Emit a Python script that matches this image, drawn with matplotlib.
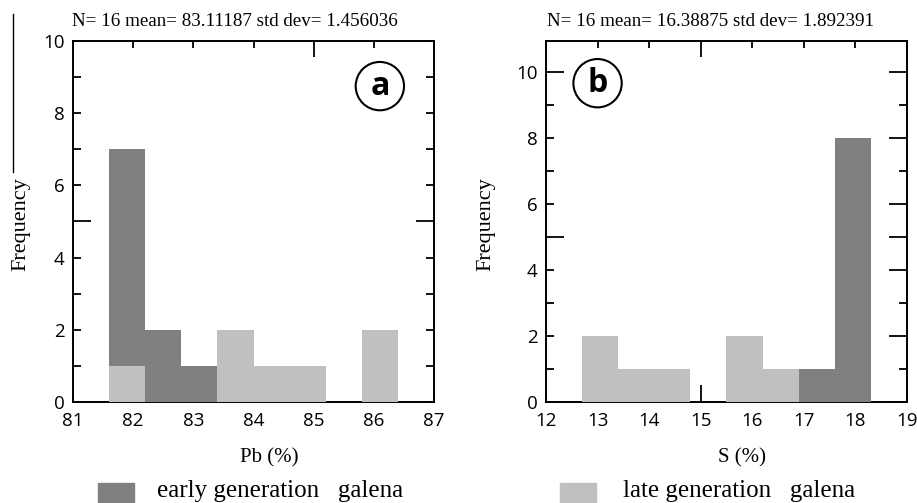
import matplotlib
matplotlib.use("Agg")
import matplotlib.pyplot as plt
from matplotlib.patches import Rectangle
from matplotlib.lines import Line2D
from matplotlib.ticker import FuncFormatter

# Pb histogram (panel a)
pb_edges = [81.6, 82.2, 82.8, 83.4, 84.0, 84.6, 85.2, 85.8, 86.4]
pb_late = [1, 0, 0, 2, 1, 1, 0, 2]
pb_early = [6, 2, 1, 0, 0, 0, 0, 0]
pb_title = "N= 16 mean= 83.11187 std dev= 1.456036"

# S histogram (panel b)
s_edges = [12.7, 13.4, 14.1, 14.8, 15.5, 16.2, 16.9, 17.6, 18.3]
s_late = [2, 1, 1, 0, 2, 1, 0, 0]
s_early = [0, 0, 0, 0, 0, 0, 1, 8]
s_title = "N= 16 mean= 16.38875 std dev= 1.892391"

dark = "#808080"
light = "#c0c0c0"
serif = "Liberation Serif"
sans = "Open Sans"


def draw(ax, edges, late, early, xlim, ylim, long_x):
    widths = [edges[i + 1] - edges[i] for i in range(len(late))]
    left = edges[:-1]
    ax.bar(left, late, width=widths, align="edge", color=light, zorder=3)
    ax.bar(left, early, width=widths, bottom=late, align="edge", color=dark, zorder=3)
    ax.set_xlim(*xlim)
    ax.set_ylim(*ylim)
    for s in ax.spines.values():
        s.set_linewidth(1.4)
        s.set_zorder(2)
    ax.set_xticks(range(xlim[0], xlim[1] + 1))
    ax.set_yticks(range(0, 11))
    ax.yaxis.set_major_formatter(FuncFormatter(lambda v, p: "%d" % v if int(v) % 2 == 0 else ""))
    ax.tick_params(direction="in", top=True, right=True, width=1.3, length=5.5,
                   labelsize=13.5, pad=6)
    ax.tick_params(axis="x", length=5, pad=7)
    ax.set_axisbelow(True)
    for lab in ax.get_xticklabels() + ax.get_yticklabels():
        lab.set_family(sans)
    for t in ax.xaxis.get_major_ticks():
        if t.get_loc() == long_x:
            t.tick1line.set_markersize(12)
            t.tick2line.set_markersize(11.5)
    for t in ax.yaxis.get_major_ticks():
        if t.get_loc() == 5:
            t.tick1line.set_markersize(13)
            t.tick2line.set_markersize(13)


fig = plt.figure(figsize=(9.17, 5.03), dpi=100)
ax1 = fig.add_axes([0.0796, 0.2008, 0.3937, 0.7177])
ax2 = fig.add_axes([0.5954, 0.2008, 0.3937, 0.7177])

draw(ax1, pb_edges, pb_late, pb_early, (81, 87), (0, 10), 85)
draw(ax2, s_edges, s_late, s_early, (12, 19), (0, 10.95), 15)

# right panel: even ticks on the right side a bit longer
for t in ax2.yaxis.get_major_ticks():
    if t.get_loc() % 2 == 0:
        t.tick2line.set_markersize(13)
    if t.get_loc() == 10:
        t.tick1line.set_markersize(13)

# stats titles
fig.text(235 / 917, 1 - 21 / 503, pb_title, family=serif, fontsize=13.7, ha="center", va="center")
fig.text(711 / 917, 1 - 21 / 503, s_title, family=serif, fontsize=13.7, ha="center", va="center")

# axis labels
fig.text(269 / 917, 1 - 458 / 503, "Pb (%)", family=serif, fontsize=15, ha="center", va="center")
fig.text(742 / 917, 1 - 458 / 503, "S (%)", family=serif, fontsize=15, ha="center", va="center")
fig.text(21 / 917, 1 - 224 / 503, "Frequency", family=serif, fontsize=16, rotation=90,
         ha="center", va="center")
fig.text(486 / 917, 1 - 224 / 503, "Frequency", family=serif, fontsize=16, rotation=90,
         ha="center", va="center")

# panel letters
ax1.text(86.1, 8.75, "a", family=sans, fontweight="bold", fontsize=23, ha="center", va="center",
         bbox=dict(boxstyle="circle,pad=0.24", fc="white", ec="black", lw=1.5), zorder=5)
ax2.text(13.0, 9.67, "b", family=sans, fontweight="bold", fontsize=23, ha="center", va="center",
         bbox=dict(boxstyle="circle,pad=0.24", fc="white", ec="black", lw=1.5), zorder=5)

# stray vertical line at far left
fig.add_artist(Line2D([13 / 917, 13 / 917], [1 - 14 / 503, 1 - 172 / 503], color="black", lw=1))

# legend squares and labels at the bottom edge
fig.add_artist(Rectangle((98 / 917, -0.02), 36 / 917, 0.02 + 20 / 503, color=dark))
fig.text(157 / 917, 1 / 503, "early generation   galena", family=serif, fontsize=18, va="bottom")
fig.add_artist(Rectangle((560 / 917, -0.02), 36 / 917, 0.02 + 20 / 503, color=light))
fig.text(623 / 917, 1 / 503, "late generation   galena", family=serif, fontsize=18, va="bottom")

fig.savefig("out.png", dpi=100)
